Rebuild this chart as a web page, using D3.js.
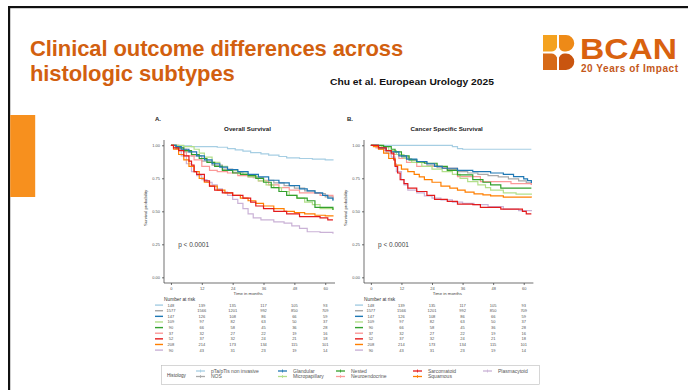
<!DOCTYPE html>
<html>
<head>
<meta charset="utf-8">
<script src="https://cdn.jsdelivr.net/npm/d3@7"></script>
<style>
  html, body { margin: 0; padding: 0; background: #fff; }
  svg { display: block; font-family: "Liberation Sans", Arial, sans-serif; }
</style>
</head>
<body>
<svg id="slide" width="688" height="390"></svg>
<script>
// ---- data ----
const histology = ["pTa/pTis non invasive", "NOS", "Glandular", "Micropapillary", "Nested",
                   "Neuroendocrine", "Sarcomatoid", "Squamous", "Plasmacytoid"];
const histColors = ["#a6cee3", "#a9a9a9", "#1f78b4", "#b2df8a", "#33a02c",
                    "#fb9a99", "#e31a1c", "#ff7f00", "#cab2d6"];
const timeTicks = [0, 12, 24, 36, 48, 60];
const survTicks = [0, 0.25, 0.5, 0.75, 1];

// Overall survival, Kaplan-Meier steps [month, probability]
const osPta = [[0,1],[3,0.995],[8,0.99],[18,0.985],[22,0.975],[25,0.965],[28,0.955],[31,0.945],[35,0.935],[38,0.925],[42,0.915],[45,0.905],[50,0.9],[55,0.895],[60,0.89],[63,0.885]];
const osNos = [[0,1],[2,0.98],[5,0.95],[8,0.92],[12,0.88],[16,0.85],[20,0.82],[24,0.795],[28,0.775],[32,0.755],[36,0.735],[40,0.715],[44,0.695],[48,0.675],[52,0.655],[56,0.635],[60,0.61],[63,0.585]];
const osGlandular = [[0,1],[2,0.99],[4,0.97],[7,0.95],[10,0.92],[13,0.89],[16,0.86],[19,0.835],[22,0.815],[26,0.8],[30,0.78],[34,0.76],[38,0.735],[42,0.715],[46,0.695],[50,0.67],[53,0.655],[56,0.64],[59,0.62],[61,0.6],[63,0.58]];
const osMicropapillary = [[0,1],[5,0.99],[9,0.97],[11,0.94],[13,0.91],[16,0.87],[19,0.84],[22,0.81],[26,0.79],[30,0.76],[34,0.73],[37,0.7],[40,0.68],[43,0.65],[46,0.62],[49,0.6],[52,0.57],[55,0.55],[58,0.52],[63,0.51]];
const osNested = [[0,1],[2,0.98],[5,0.96],[8,0.93],[11,0.9],[14,0.87],[17,0.84],[20,0.81],[24,0.79],[27,0.78],[30,0.77],[33,0.75],[36,0.72],[39,0.68],[42,0.65],[45,0.62],[49,0.6],[53,0.58],[56,0.53],[63,0.51]];
const osNeuroendocrine = [[0,1],[3,0.97],[6,0.92],[9,0.89],[12,0.84],[15,0.81],[18,0.8],[22,0.79],[26,0.77],[30,0.76],[34,0.73],[38,0.7],[42,0.68],[46,0.66],[50,0.64],[58,0.62],[63,0.6]];
const osSarcomatoid = [[0,1],[1,0.98],[3,0.96],[5,0.92],[7,0.88],[8,0.85],[9,0.8],[10,0.78],[13,0.73],[15,0.69],[17,0.66],[20,0.64],[24,0.62],[28,0.6],[31,0.57],[33,0.54],[36,0.52],[40,0.5],[45,0.48],[50,0.46],[58,0.45],[61,0.435],[63,0.435]];
const osSquamous = [[0,1],[1,0.97],[3,0.93],[5,0.89],[7,0.84],[9,0.8],[11,0.75],[13,0.72],[15,0.69],[18,0.66],[21,0.64],[24,0.62],[27,0.6],[30,0.58],[33,0.56],[36,0.54],[40,0.52],[44,0.5],[48,0.49],[52,0.48],[56,0.47],[60,0.465],[63,0.46]];
const osPlasmacytoid = [[0,1],[2,0.97],[4,0.92],[6,0.86],[8,0.8],[10,0.77],[12,0.74],[14,0.72],[16,0.7],[18,0.67],[20,0.645],[22,0.62],[24,0.59],[26,0.56],[28,0.52],[30,0.48],[32,0.45],[35,0.435],[40,0.42],[44,0.41],[47,0.39],[50,0.37],[53,0.345],[58,0.34],[63,0.33]];

// Cancer specific survival
const cssPta = [[0,1],[30,1],[32,0.99],[34,0.975],[36,0.97],[63,0.97]];
const cssNos = [[0,1],[3,0.98],[6,0.96],[9,0.93],[12,0.91],[15,0.89],[18,0.87],[22,0.85],[26,0.83],[30,0.815],[34,0.8],[38,0.79],[42,0.78],[46,0.77],[50,0.76],[54,0.745],[58,0.73],[61,0.715],[63,0.7]];
const cssGlandular = [[0,1],[3,0.98],[6,0.96],[8,0.95],[11,0.92],[14,0.895],[18,0.877],[22,0.86],[25,0.84],[28,0.826],[34,0.81],[40,0.8],[47,0.79],[52,0.78],[56,0.763],[60,0.745],[61.5,0.733],[63,0.715]];
const cssMicropapillary = [[0,1],[4,0.99],[7,0.96],[10,0.93],[13,0.9],[16,0.87],[20,0.84],[24,0.82],[28,0.8],[32,0.78],[35,0.75],[38,0.725],[42,0.7],[45,0.68],[47,0.66],[52,0.64],[57,0.63],[63,0.625]];
const cssNested = [[0,1],[5,0.99],[8,0.97],[9.5,0.95],[12,0.92],[15,0.89],[18,0.875],[21,0.864],[26,0.84],[30,0.81],[34,0.776],[40,0.74],[44,0.72],[47,0.7],[51,0.675],[63,0.675]];
const cssNeuroendocrine = [[0,1],[2,0.98],[5,0.96],[8,0.93],[11,0.9],[14,0.87],[18,0.84],[28,0.826],[34,0.763],[43,0.725],[55,0.71],[63,0.7]];
const cssSarcomatoid = [[0,1],[3,0.98],[6,0.96],[8,0.94],[9,0.89],[9.5,0.84],[10.5,0.79],[11.5,0.74],[13,0.71],[14.5,0.675],[18,0.65],[22,0.62],[25,0.59],[30,0.575],[34,0.554],[40,0.55],[43,0.53],[51,0.516],[59.5,0.5],[61,0.48],[63,0.48]];
const cssSquamous = [[0,1],[1,0.99],[3,0.97],[5,0.94],[7,0.9],[9.5,0.85],[12,0.82],[14.5,0.8],[17,0.78],[19,0.76],[21,0.74],[24,0.72],[27.5,0.69],[31,0.675],[34,0.66],[37,0.645],[40.5,0.632],[44,0.624],[47,0.617],[52,0.607],[63,0.605]];
const cssPlasmacytoid = [[0,1],[3,0.97],[6,0.94],[8,0.91],[9.5,0.86],[10,0.8],[12,0.74],[13,0.7],[14.5,0.66],[18,0.64],[21,0.617],[24,0.6],[27.5,0.587],[32,0.57],[36,0.56],[40.5,0.55],[46,0.535],[52,0.516],[58,0.505],[63,0.5]];

const osSeries = [osPta, osNos, osGlandular, osMicropapillary, osNested, osNeuroendocrine, osSarcomatoid, osSquamous, osPlasmacytoid];
const cssSeries = [cssPta, cssNos, cssGlandular, cssMicropapillary, cssNested, cssNeuroendocrine, cssSarcomatoid, cssSquamous, cssPlasmacytoid];

// Numbers at risk (same table under both panels)
const atRisk = [
  [148, 139, 135, 117, 105, 93],
  [1577, 1566, 1201, 992, 850, 709],
  [147, 126, 108, 86, 66, 59],
  [109, 97, 82, 63, 50, 37],
  [90, 66, 58, 45, 36, 28],
  [37, 32, 27, 22, 19, 16],
  [52, 37, 32, 24, 21, 18],
  [208, 214, 173, 134, 115, 101],
  [90, 43, 31, 23, 19, 14]
];
const drawOrder = [1, 0, 8, 5, 3, 4, 2, 7, 6];

// ---- slide frame ----
const svg = d3.select("#slide");
const ORANGE = "#d2600f";

svg.append("rect").attr("x", 8).attr("y", 6).attr("width", 680).attr("height", 2.2).attr("fill", "#111");
svg.append("rect").attr("x", 8).attr("y", 6).attr("width", 2.2).attr("height", 384).attr("fill", "#111");
svg.append("rect").attr("x", 10.2).attr("y", 115).attr("width", 25).attr("height", 82).attr("fill", "#f7901e");

// two-line heading
[["Clinical outcome differences across", 56], ["histologic subtypes", 81]].forEach(([txt, base]) => {
  svg.append("text").attr("x", 30).attr("y", base).attr("fill", ORANGE)
    .attr("font-weight", "bold").attr("font-size", 22).attr("letter-spacing", -0.1).text(txt);
});

svg.append("text").attr("x", 330).attr("y", 85)
  .attr("font-family", "'Liberation Sans Narrow', 'Liberation Sans', Arial, sans-serif")
  .attr("font-weight", "bold").attr("font-size", 9.5).attr("fill", "#111")
  .attr("textLength", 164).attr("lengthAdjust", "spacingAndGlyphs")
  .text("Chu et al. European Urology 2025");

// logo mark
const logo = svg.append("g");
logo.append("path").attr("d", "M543,35 H557 V51.5 H543 Z").attr("fill", "#f4a21f");
logo.append("path").attr("d", "M559,35 H566 A8.2,8.2 0 0 1 566,51.5 H559 Z").attr("fill", "#ee8a17");
logo.append("path").attr("d", "M543,53.5 H557 V70 H543 Z").attr("fill", "#d76a16");
logo.append("path").attr("d", "M559,53.5 H566 A8.2,8.2 0 0 1 566,70 H559 Z").attr("fill", "#c9550f");
logo.append("path").attr("d", "M558,44 Q559,51.5 566,52.5 Q559,53.5 558,61 Q557,53.5 550,52.5 Q557,51.5 558,44 Z").attr("fill", "#fff");
svg.append("text").attr("x", 580).attr("y", 58.5).attr("font-weight", "bold").attr("font-size", 29.5)
  .attr("fill", "#d9620f").attr("textLength", 97).attr("lengthAdjust", "spacingAndGlyphs").text("BCAN");
svg.append("text").attr("x", 581).attr("y", 72).attr("font-weight", "bold").attr("font-size", 10)
  .attr("fill", "#c4581a").attr("textLength", 97).text("20 Years of Impact");

// ---- survival panels ----
function panel(opts) {
  const g = svg.append("g");
  const x = d3.scaleLinear().domain([-2.7, 63.8]).range([opts.x0, opts.x1]);
  const y = d3.scaleLinear().domain([-0.043, 1.04]).range([283, 140]);

  g.append("text").attr("x", opts.tagX).attr("y", 121).attr("font-weight", "bold").attr("font-size", 6)
    .attr("fill", "#222").text(opts.tag);
  g.append("text").attr("x", (opts.x0 + opts.x1) / 2 - 2).attr("y", 131).attr("text-anchor", "middle")
    .attr("font-weight", "bold").attr("font-size", 6.2).attr("fill", "#222").text(opts.title);

  const yAxis = g.append("g").attr("transform", `translate(${opts.x0},0)`)
    .call(d3.axisLeft(y).tickValues(survTicks).tickFormat(d3.format(".2f")).tickSize(2).tickPadding(2));
  const xAxis = g.append("g").attr("transform", "translate(0,283)")
    .call(d3.axisBottom(x).tickValues(timeTicks).tickSize(2).tickPadding(2));
  [yAxis, xAxis].forEach(a => {
    a.selectAll("path, line").attr("stroke", "#333").attr("stroke-width", 0.7);
    a.selectAll("text").attr("font-size", 4).attr("fill", "#555");
  });
  yAxis.select(".domain").attr("d", `M0,${y(1.04)}V${y(-0.043)}`);
  xAxis.select(".domain").attr("d", `M${opts.x0},0H${opts.x1}`);

  g.append("text").attr("transform", `translate(${opts.x0 - 17},208) rotate(-90)`).attr("text-anchor", "middle")
    .attr("font-size", 4.3).attr("fill", "#444").text("Survival probability");
  g.append("text").attr("x", x(30)).attr("y", 294.5).attr("text-anchor", "middle")
    .attr("font-size", 4.3).attr("fill", "#444").text("Time in months");
  g.append("text").attr("x", x(2.8)).attr("y", 247).attr("font-size", 6.5).attr("fill", "#444").text("p < 0.0001");

  const line = d3.line().x(d => x(d[0])).y(d => y(d[1])).curve(d3.curveStepAfter);
  drawOrder.forEach(i => {
    g.append("path").datum(opts.series[i]).attr("d", line)
      .attr("fill", "none").attr("stroke", histColors[i]).attr("stroke-width", 1.2);
  });

  // risk table
  g.append("text").attr("x", opts.x0).attr("y", 301).attr("font-size", 4.8).attr("fill", "#333").text("Number at risk");
  const rowY = d3.scaleLinear().domain([0, 8]).range([306.5, 351.5]);
  atRisk.forEach((row, r) => {
    g.append("line").attr("x1", opts.x0 - 9).attr("x2", opts.x0 - 1)
      .attr("y1", rowY(r) - 1.4).attr("y2", rowY(r) - 1.4)
      .attr("stroke", histColors[r]).attr("stroke-width", 1.4);
    row.forEach((v, c) => {
      g.append("text").attr("x", x(timeTicks[c])).attr("y", rowY(r)).attr("text-anchor", "middle")
        .attr("font-size", 4).attr("fill", "#555").text(v);
    });
  });
}

panel({ x0: 164, x1: 335, tag: "A.", tagX: 155, title: "Overall Survival", series: osSeries });
panel({ x0: 364, x1: 533.4, tag: "B.", tagX: 347, title: "Cancer Specific Survival", series: cssSeries });

// ---- legend ----
const leg = svg.append("g");
leg.append("rect").attr("x", 161.5).attr("y", 365.5).attr("width", 378).attr("height", 19)
  .attr("fill", "#fff").attr("stroke", "#bbb").attr("stroke-width", 0.6);
leg.append("text").attr("x", 167).attr("y", 377).attr("font-size", 4.6).attr("fill", "#444").text("Histology");
const colX = [196, 278, 336, 413, 483];
histology.forEach((name, i) => {
  const cx = colX[Math.floor(i / 2)];
  const cy = i % 2 === 0 ? 371 : 376.5;
  leg.append("line").attr("x1", cx).attr("x2", cx + 9).attr("y1", cy).attr("y2", cy)
    .attr("stroke", histColors[i]).attr("stroke-width", 1.3);
  leg.append("line").attr("x1", cx + 4.5).attr("x2", cx + 4.5).attr("y1", cy - 1.5).attr("y2", cy + 1.5)
    .attr("stroke", histColors[i]).attr("stroke-width", 0.8);
  leg.append("text").attr("x", cx + 15).attr("y", cy + 1.7).attr("font-size", 5).attr("fill", "#555").text(name);
});
</script>
</body>
</html>
